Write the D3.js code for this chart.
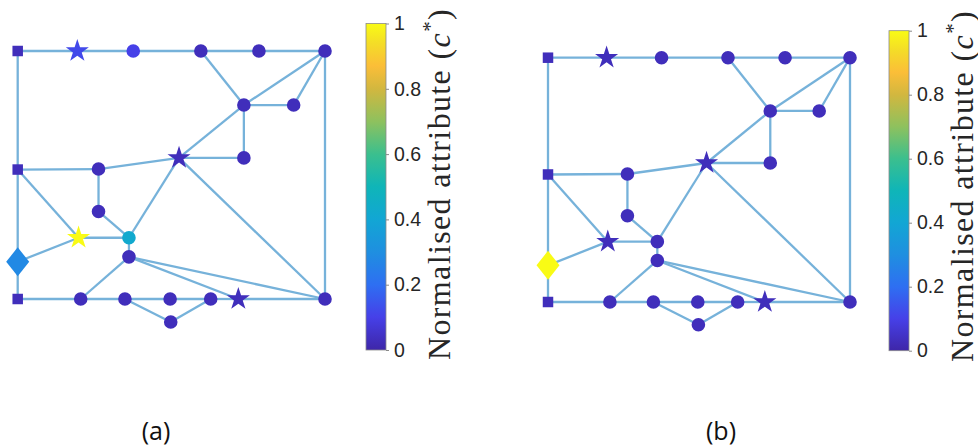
<!DOCTYPE html>
<html>
<head>
<meta charset="utf-8">
<script src="https://cdn.jsdelivr.net/npm/d3@7"></script>
<style>
body { margin: 0; background: #fff; }
svg { display: block; }
</style>
</head>
<body>
<svg id="chart" width="978" height="446"></svg>
<script>
// node layout (same graph in both panels), in normalised grid units
var nodeX = [0, 19.4, 37.6, 59.6, 78.5, 100, 73.6, 89.8, 52.5, 73.6, 0, 26.3, 26.3, 19.8, 36.2, 36.2, 0, 0, 20.5, 34.9, 49.6, 62.8, 71.8, 100, 49.8]
var nodeY = [0, 0, 0, 0, 0, 0, 21.8, 21.8, 43.1, 43.1, 47.8, 47.6, 64.7, 75.3, 75.3, 83, 85, 100, 100, 100, 100, 100, 100, 100, 109.3]
var nodeShape = ['square', 'star', 'circle', 'circle', 'circle', 'circle', 'circle', 'circle', 'star', 'circle',
	'square', 'circle', 'circle', 'star', 'circle', 'circle', 'diamond', 'square', 'circle', 'circle',
	'circle', 'circle', 'star', 'circle', 'circle']
// normalised attribute c* per node
var attrA = [0.03, 0.12, 0.1, 0.03, 0.03, 0.03, 0.03, 0.03, 0.03, 0.03, 0.03, 0.03, 0.03, 1.0, 0.42, 0.03, 0.28, 0.03, 0.03, 0.03, 0.03, 0.03, 0.03, 0.03, 0.03]
var attrB = [0.03, 0.03, 0.03, 0.03, 0.03, 0.03, 0.03, 0.03, 0.03, 0.03, 0.03, 0.03, 0.03, 0.03, 0.03, 0.03, 1.0, 0.03, 0.03, 0.03, 0.03, 0.03, 0.03, 0.03, 0.03]
var edges = [[0, 1], [1, 2], [2, 3], [3, 4], [4, 5],
	[3, 6], [6, 5], [7, 5], [6, 7], [6, 9], [6, 8], [8, 9],
	[5, 23], [0, 10], [10, 16], [16, 17],
	[10, 11], [11, 8], [11, 12], [12, 14], [10, 13], [13, 14], [16, 13], [14, 8], [8, 23],
	[14, 15], [15, 18], [15, 23], [15, 22],
	[17, 18], [18, 19], [19, 20], [20, 21], [21, 22], [22, 23],
	[19, 24], [24, 21]]
var cbTicks = [0, 0.2, 0.4, 0.6, 0.8, 1]
var panelLabels = ['(a)', '(b)']

// parula-like colormap
var cmapStops = [0, 0.1, 0.2, 0.3, 0.4, 0.5, 0.6, 0.7, 0.8, 0.87, 0.94, 1]
var cmapColors = ['#3e26a8', '#4640e8', '#2e6ff2', '#1f8fe0', '#12a6d4', '#0fb5b8', '#3bbf8e', '#8ec15e', '#d2b73f', '#fbbe38', '#f4dd27', '#f9fb15']
var cmap = d3.scaleLinear().domain(cmapStops).range(cmapColors).interpolate(d3.interpolateRgb)

var svg = d3.select('#chart')

var panels = [
	{ values: attrA, xr: [17.7, 325], yr: [51, 299], cbx: 366, cby: [350, 23.5], label: panelLabels[0], lx: 156, titleY: 360 },
	{ values: attrB, xr: [548, 850], yr: [57.7, 302], cbx: 889, cby: [350.7, 30.7], label: panelLabels[1], lx: 721, titleY: 362 }
]

var defs = svg.append('defs')
var grad = defs.append('linearGradient').attr('id', 'parula')
	.attr('x1', 0).attr('y1', 1).attr('x2', 0).attr('y2', 0)
grad.selectAll('stop').data(cmapStops).enter().append('stop')
	.attr('offset', function(d) { return d })
	.attr('stop-color', function(d) { return cmap(d) })

function nodePath(shape)
{
	if(shape == 'star') return d3.symbol(d3.symbolStar, 165)()
	if(shape == 'circle') return d3.symbol(d3.symbolCircle, Math.PI * 6.8 * 6.8)()
	if(shape == 'square') return d3.symbol(d3.symbolSquare, 10.5 * 10.5)()
	// diamond, taller than wide
	return 'M0,-14.5L11.5,0L0,14.5L-11.5,0Z'
}

panels.forEach(function(p)
{
	var x = d3.scaleLinear().domain([0, 100]).range(p.xr)
	var y = d3.scaleLinear().domain([0, 100]).range(p.yr)
	var g = svg.append('g')

	g.selectAll('line.edge').data(edges).enter().append('line')
		.attr('class', 'edge')
		.attr('x1', function(d) { return x(nodeX[d[0]]) })
		.attr('y1', function(d) { return y(nodeY[d[0]]) })
		.attr('x2', function(d) { return x(nodeX[d[1]]) })
		.attr('y2', function(d) { return y(nodeY[d[1]]) })
		.attr('stroke', '#76b2da')
		.attr('stroke-width', 2.3)

	g.selectAll('path.node').data(nodeShape).enter().append('path')
		.attr('class', 'node')
		.attr('d', function(d) { return nodePath(d) })
		.attr('transform', function(d, i) { return 'translate(' + x(nodeX[i]) + ',' + y(nodeY[i]) + ')' })
		.attr('fill', function(d, i) { return cmap(p.values[i]) })

	// colorbar
	var cy = d3.scaleLinear().domain([0, 1]).range(p.cby)
	var cb = svg.append('g')
	cb.append('rect')
		.attr('x', p.cbx).attr('y', p.cby[1])
		.attr('width', 20).attr('height', p.cby[0] - p.cby[1])
		.attr('fill', 'url(#parula)')
		.attr('stroke', '#8a8a8a').attr('stroke-width', 0.8)
	var ax = cb.append('g')
		.attr('transform', 'translate(' + (p.cbx + 20) + ',0)')
		.call(d3.axisRight(cy).tickValues(cbTicks).tickSize(3).tickPadding(5).tickFormat(d3.format('')))
	ax.select('.domain').remove()
	ax.selectAll('line').attr('stroke', '#8a8a8a')
	ax.selectAll('text')
		.attr('fill', '#262626')
		.style('font-family', '"Liberation Sans", Arial, sans-serif')
		.style('font-size', '19.5px')

	var tx = p.cbx + 84
	var title = cb.append('text')
		.attr('transform', 'translate(' + tx + ',' + p.titleY + ') rotate(-90)')
		.style('font-family', '"Liberation Serif", "DejaVu Serif", serif')
		.style('font-size', '32px')
		.attr('fill', '#262626')
	title.append('tspan').text('Normalised attribute (')
	title.append('tspan').style('font-style', 'italic').text('c')
	title.append('tspan').attr('dy', -13).style('font-size', '21px').text('*')
	title.append('tspan').attr('dy', 13).text(')')
	// stretch to the width of the LaTeX label
	var len = title.node().getComputedTextLength()
	title.style('letter-spacing', ((352 - len) / 25) + 'px')

	svg.append('text')
		.attr('x', p.lx).attr('y', 440)
		.attr('text-anchor', 'middle')
		.style('font-family', '"Open Sans", "Noto Sans", sans-serif')
		.style('font-size', '25px')
		.attr('fill', '#111')
		.text(p.label)
})
</script>
</body>
</html>
